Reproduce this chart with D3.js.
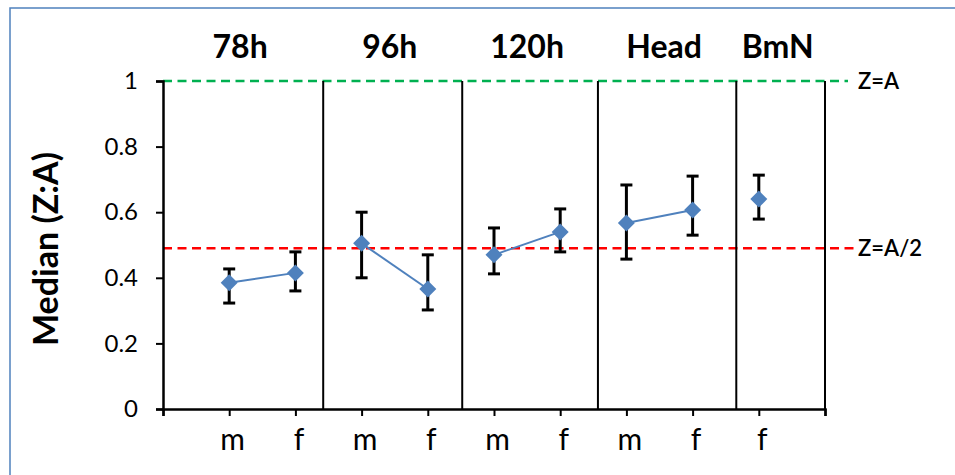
<!DOCTYPE html>
<html>
<head>
<meta charset="utf-8">
<script src="https://cdn.jsdelivr.net/npm/d3@7"></script>
<style>
  html, body { margin: 0; padding: 0; background: #fff; }
  svg { display: block; }
  text { font-family: Lato, "Liberation Sans", sans-serif; fill: #000; }
</style>
</head>
<body>
<div id="chart"></div>
<script>
// Data
const groups = ['78h', '96h', '120h', 'Head', 'BmN'];
const sexLabels = ['m', 'f', 'm', 'f', 'm', 'f', 'm', 'f', 'f'];
const groupOf = ['78h', '78h', '96h', '96h', '120h', '120h', 'Head', 'Head', 'BmN'];
const medians = [0.385, 0.415, 0.505, 0.366, 0.47, 0.54, 0.567, 0.607, 0.64];
const errLow = [0.323, 0.36, 0.40, 0.302, 0.412, 0.479, 0.457, 0.53, 0.579];
const errHigh = [0.427, 0.479, 0.60, 0.47, 0.552, 0.61, 0.683, 0.71, 0.713];
// group boundaries, in category slots (slot 0 and 10 are the empty axis ends)
const separators = [2.42, 4.52, 6.57, 8.66, 10];
const yTicks = [0, 0.2, 0.4, 0.6, 0.8, 1];
const refLines = [
  { value: 1, label: 'Z=A', color: '#00b050' },
  { value: 0.49, label: 'Z=A/2', color: '#ff0000' }
];

const width = 955, height = 475;
const blue = '#4f81bd';

const svg = d3.select('#chart').append('svg')
  .attr('width', width)
  .attr('height', height);

// outer frame (runs off the right and bottom edge)
svg.append('rect')
  .attr('x', 10).attr('y', 8)
  .attr('width', 1000).attr('height', 500)
  .attr('fill', 'none')
  .attr('stroke', blue)
  .attr('stroke-width', 1.5);

const x = d3.scaleLinear().domain([0, 10]).range([163, 825]);
const y = d3.scaleLinear().domain([0, 1]).range([409, 81]);

const pts = medians.map((m, i) => ({
  slot: i + 1, sex: sexLabels[i], group: groupOf[i], m, lo: errLow[i], hi: errHigh[i]
}));

// reference lines
const ref = svg.append('g');
ref.selectAll('line')
  .data(refLines)
  .join('line')
  .attr('x1', x(0))
  .attr('x2', (d, i) => i === 0 ? 848 : 855)
  .attr('y1', d => y(d.value))
  .attr('y2', d => y(d.value))
  .attr('stroke', d => d.color)
  .attr('stroke-width', 2.5)
  .attr('stroke-dasharray', '9,5.5');
ref.selectAll('text')
  .data(refLines)
  .join('text')
  .attr('x', 858)
  .attr('y', d => y(d.value))
  .attr('dy', '0.36em')
  .attr('font-size', 22)
  .attr('font-weight', 600)
  .text(d => d.label);

// group separators
svg.append('g')
  .selectAll('line')
  .data(separators)
  .join('line')
  .attr('x1', d => x(d)).attr('x2', d => x(d))
  .attr('y1', y(1)).attr('y2', y(0))
  .attr('stroke', '#000')
  .attr('stroke-width', 2);

// group headers, centred between separators
const bounds = [0].concat(separators);
svg.append('g')
  .selectAll('text')
  .data(groups)
  .join('text')
  .attr('x', (d, i) => (x(bounds[i]) + x(bounds[i + 1])) / 2 - 3)
  .attr('y', 58)
  .attr('text-anchor', 'middle')
  .attr('font-size', 32)
  .attr('font-weight', 'bold')
  .text(d => d);

// y axis
const yAxis = svg.append('g')
  .attr('transform', `translate(${x(0)},0)`)
  .call(d3.axisLeft(y).tickValues(yTicks).tickSize(7).tickPadding(18)
    .tickFormat(d => d3.format('')(+d.toFixed(1))));
yAxis.select('.domain').attr('stroke-width', 2.5);
yAxis.selectAll('.tick line').attr('stroke-width', 2);
yAxis.selectAll('text').attr('font-size', 24).attr('font-family', null);

// x axis
const slotLabels = [''].concat(sexLabels, ['']);
const xAxis = svg.append('g')
  .attr('transform', `translate(0,${y(0)})`)
  .call(d3.axisBottom(x).tickValues(d3.range(11)).tickSize(7).tickPadding(13)
    .tickFormat(i => slotLabels[i]));
xAxis.select('.domain').attr('stroke-width', 2.5);
xAxis.selectAll('.tick line').attr('stroke-width', 2);
xAxis.selectAll('text').attr('font-size', 30).attr('font-family', null).attr('dx', 3);

// y axis title
svg.append('text')
  .attr('transform', `translate(58,${(y(0) + y(1)) / 2 + 4}) rotate(-90)`)
  .attr('text-anchor', 'middle')
  .attr('font-size', 34)
  .attr('font-weight', 'bold')
  .text('Median (Z:A)');

// connecting lines inside each group
const line = d3.line().x(d => x(d.slot)).y(d => y(d.m));
const byGroup = d3.groups(pts, d => d.group).filter(g => g[1].length > 1);
svg.append('g')
  .selectAll('path')
  .data(byGroup)
  .join('path')
  .attr('d', d => line(d[1]))
  .attr('fill', 'none')
  .attr('stroke', blue)
  .attr('stroke-width', 2);

// error bars
const eb = svg.append('g').attr('stroke', '#000').attr('stroke-width', 3);
eb.selectAll('line.v')
  .data(pts)
  .join('line')
  .attr('class', 'v')
  .attr('x1', d => x(d.slot)).attr('x2', d => x(d.slot))
  .attr('y1', d => y(d.lo)).attr('y2', d => y(d.hi));
eb.selectAll('line.top')
  .data(pts)
  .join('line')
  .attr('class', 'top')
  .attr('x1', d => x(d.slot) - 6).attr('x2', d => x(d.slot) + 6)
  .attr('y1', d => y(d.hi)).attr('y2', d => y(d.hi));
eb.selectAll('line.bot')
  .data(pts)
  .join('line')
  .attr('class', 'bot')
  .attr('x1', d => x(d.slot) - 6).attr('x2', d => x(d.slot) + 6)
  .attr('y1', d => y(d.lo)).attr('y2', d => y(d.lo));

// diamond markers
svg.append('g')
  .selectAll('path')
  .data(pts)
  .join('path')
  .attr('transform', d => `translate(${x(d.slot)},${y(d.m)})`)
  .attr('d', 'M0,-8.5L8.5,0L0,8.5L-8.5,0Z')
  .attr('fill', blue);
</script>
</body>
</html>
